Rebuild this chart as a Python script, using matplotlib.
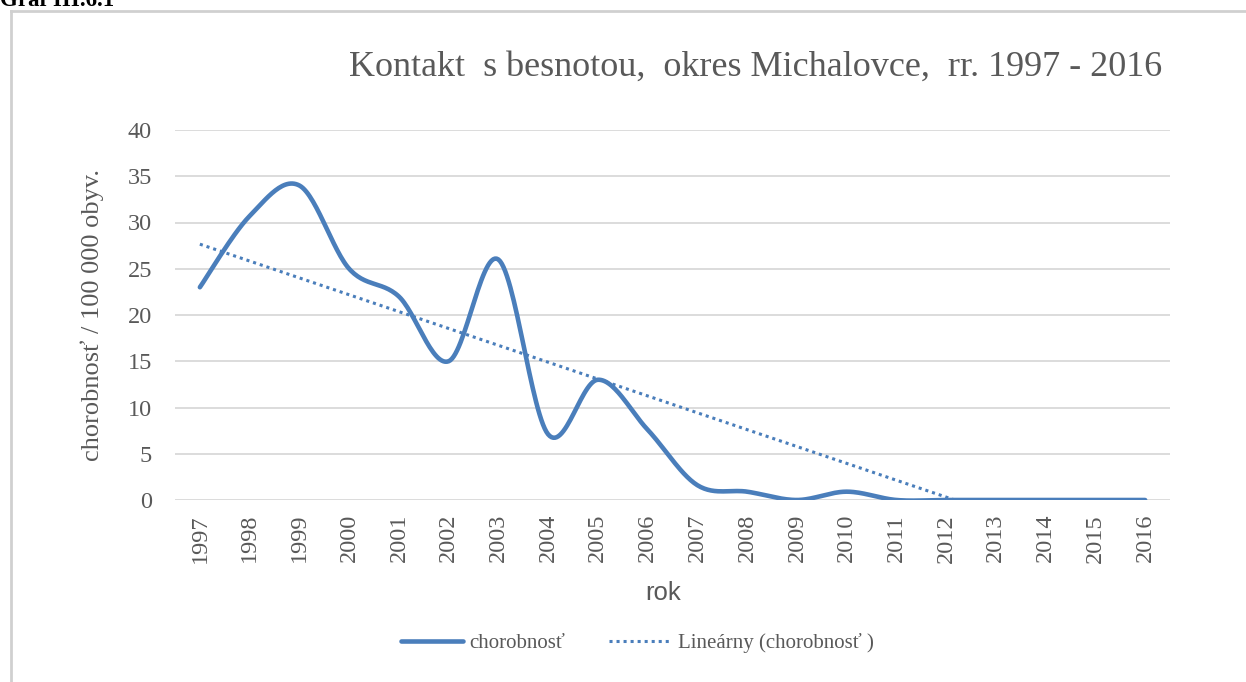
import numpy as np
import matplotlib
matplotlib.use("Agg")
import matplotlib.pyplot as plt
from matplotlib.lines import Line2D

# data
years = [str(y) for y in range(1997, 2017)]
chorobnost = [23, 30.7, 34, 25, 22, 15, 26, 7.1, 13, 7.6, 1.6, 0.9, 0, 0.9, 0, 0, 0, 0, 0, 0]
y_ticks = [0, 5, 10, 15, 20, 25, 30, 35, 40]

title = "Kontakt  s besnotou,  okres Michalovce,  rr. 1997 - 2016"
y_label = "chorobnosť / 100 000 obyv."
x_label = "rok"
legend_labels = ["chorobnosť", "Lineárny (chorobnosť )"]

line_color = "#4A7EBB"
text_color = "#595959"
grid_color = "#D9D9D9"
serif = "Liberation Serif"


def smooth(xs, ys, n=30):
    # Excel-style smoothed line (Catmull-Rom through the points)
    pts = np.column_stack([xs, ys]).astype(float)
    ext = np.vstack([pts[0], pts, pts[-1]])
    out = []
    t = np.linspace(0, 1, n)[:, None]
    for i in range(len(pts) - 1):
        p0, p1, p2, p3 = ext[i], ext[i + 1], ext[i + 2], ext[i + 3]
        b1 = p1 + (p2 - p0) / 6
        b2 = p2 - (p3 - p1) / 6
        seg = ((1 - t) ** 3) * p1 + 3 * ((1 - t) ** 2) * t * b1 + 3 * (1 - t) * t ** 2 * b2 + t ** 3 * p2
        out.append(seg if i == 0 else seg[1:])
    seg = np.vstack(out)
    return seg[:, 0], seg[:, 1]


fig = plt.figure(figsize=(12.46, 6.82), dpi=100)
ax = fig.add_axes([175 / 1246, 1 - 500 / 682, 995 / 1246, 370 / 682])

x = np.arange(len(years))
sx, sy = smooth(x, chorobnost)
ax.plot(sx, sy, color=line_color, lw=3.3, solid_capstyle="round", zorder=3)

# linear trend
k, q = np.polyfit(x, chorobnost, 1)
tx = np.linspace(0, len(years) - 1, 400)
ty = k * tx + q
mask = ty >= 0
ax.plot(tx[mask], ty[mask], color=line_color, lw=2.2, linestyle=(0, (1, 1.3)), zorder=2)

ax.set_xlim(-0.5, len(years) - 0.5)
ax.set_ylim(0, 40)
ax.set_yticks(y_ticks)
ax.set_xticks(x)
ax.set_xticklabels(years, rotation=90)
for sp in ax.spines.values():
    sp.set_visible(False)
ax.grid(axis="y", color=grid_color, lw=1.3)
ax.set_axisbelow(True)
ax.tick_params(length=0, labelcolor=text_color, labelsize=17.5)
ax.tick_params(axis="y", pad=16.5)
ax.tick_params(axis="x", pad=10)
for lab in ax.get_xticklabels() + ax.get_yticklabels():
    lab.set_fontfamily(serif)

fig.text(92 / 1246, 1 - 315 / 682, y_label, rotation=90, ha="center", va="center",
         fontsize=19, color=text_color, family=serif)
fig.text(663 / 1246, 1 - 593 / 682, x_label, ha="center", va="center",
         fontsize=18.5, color=text_color, family="Liberation Sans")
fig.text(756 / 1246, 1 - 67 / 682, title, ha="center", va="center",
         fontsize=26, color=text_color, family=serif)

# cut-off caption and frame of the source document
fig.text(0.0, 1 - 6 / 682, "Graf III.6.1", ha="left", va="baseline",
         fontsize=16.5, fontweight="bold", color="black", family=serif)
fig.add_artist(Line2D([11 / 1246, 1], [1 - 11 / 682, 1 - 11 / 682], color="#D0D0D0", lw=2))
fig.add_artist(Line2D([11 / 1246, 11 / 1246], [0, 1 - 11 / 682], color="#D0D0D0", lw=2))

handles = [Line2D([], [], color=line_color, lw=3.3, solid_capstyle="round"),
           Line2D([], [], color=line_color, lw=2.2, linestyle=(0, (1, 1.3)))]
leg = fig.legend(handles, legend_labels, loc="center", bbox_to_anchor=(637 / 1246, 1 - 643 / 682),
                 ncol=2, frameon=False, handlelength=3.0, columnspacing=2.1, handletextpad=0.3,
                 prop={"family": serif, "size": 15})
for t in leg.get_texts():
    t.set_color(text_color)

fig.savefig("out.png", dpi=100)
